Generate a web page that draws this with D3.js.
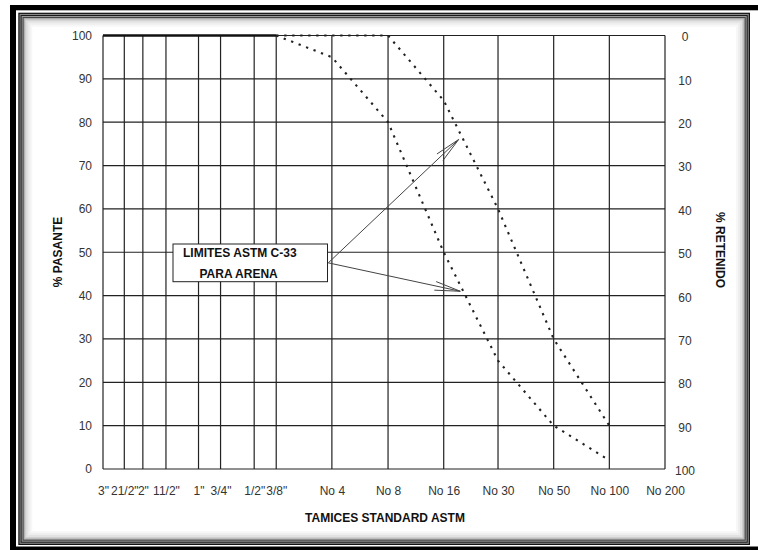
<!DOCTYPE html>
<html><head><meta charset="utf-8">
<script src="https://cdn.jsdelivr.net/npm/d3@7"></script>
<style>body{margin:0;background:#fff}svg{display:block;font-family:"Liberation Sans",Arial,sans-serif}</style>
</head><body><svg id="c" width="758" height="550"></svg>
<script>
// ---- data ----
const sieveLabels = ['3"','21/2"','2"','11/2"','1"','3/4"','1/2"','3/8"','No 4','No 8','No 16','No 30','No 50','No 100','No 200'];
const sieveMM     = [75, 63, 50, 37.5, 25, 19, 12.5, 9.5, 4.75, 2.36, 1.18, 0.6, 0.3, 0.15, 0.075];
const upperLimit  = [100,100,100,100,100,100,100,100,100,100,85,60,30,10,null];
const lowerLimit  = [100,100,100,100,100,100,100,100,95,80,50,25,10,2,null];
const pasanteTicks  = [0,10,20,30,40,50,60,70,80,90,100];
const retenidoTicks = [0,10,20,30,40,50,60,70,80,90,100];
const legendLines = ["LIMITES ASTM C-33", "PARA ARENA"];
const arrowTargets = [{mm:0.98, pct:76}, {mm:0.96, pct:41}];
const coarseEnd = 7; // index of 3/8"

const svg = d3.select("#c");

// ---- frame ----
const fr = svg.append("g");
fr.append("rect").attr("x",10).attr("y",5).attr("width",760).attr("height",560).attr("fill","#000");
fr.append("rect").attr("x",16).attr("y",10.3).attr("width",750).attr("height",536.2).attr("fill","#fff");
const layers = [["#111",0],["#8a8a8a",1.2],["#1a1a1a",2.3],["#9a9a9a",3.3],["#444",4.3],["#aaa",5.3],["#cfcfcf",6.5],["#e2e2e2",8],["#eeeeee",10],["#f7f7f7",12],["#fff",14]];
layers.forEach(([c,i])=>{
  fr.append("rect").attr("x",18.3+i).attr("y",12.7+i).attr("width",731.7-2*i).attr("height",532.3-2*i).attr("fill",c);
});

// ---- scales (log of sieve opening; first interval widened as in the original axis) ----
const x = d3.scaleLog().domain([sieveMM[0], sieveMM[1], sieveMM[sieveMM.length-1]]).range([103, 124.3, 665]);
const y = d3.scaleLinear().domain([0,100]).range([469,35.5]);
const yR = d3.scaleLinear().domain([100,0]).range([469,35.5]);
const x0 = x(sieveMM[0]), x1 = x(sieveMM[sieveMM.length-1]);

// ---- grid ----
const grid = svg.append("g").attr("stroke","#222").attr("stroke-width",1.2);
grid.selectAll("line.h").data(pasanteTicks).join("line")
  .attr("x1",x0).attr("x2",x1).attr("y1",d=>y(d)).attr("y2",d=>y(d));
grid.selectAll("line.v").data(sieveMM).join("line")
  .attr("x1",d=>x(d)).attr("x2",d=>x(d)).attr("y1",y(0)).attr("y2",y(100));

// ---- axes ----
const axL = svg.append("g").attr("transform",`translate(${x0},0)`)
  .call(d3.axisLeft(y).tickValues(pasanteTicks).tickSize(0).tickPadding(11));
const axR = svg.append("g").attr("transform",`translate(${x1},0)`)
  .call(d3.axisRight(yR).tickValues(retenidoTicks).tickSize(0).tickPadding(20));
axR.selectAll("text").attr("text-anchor","middle").attr("dy","0.45em");
const axB = svg.append("g").attr("transform",`translate(0,${y(0)})`)
  .call(d3.axisBottom(x).tickValues(sieveMM).tickFormat((d,i)=>sieveLabels[i]).tickSize(0).tickPadding(17));
[axL,axR,axB].forEach(a=>{
  a.select(".domain").remove();
  a.selectAll("text").attr("font-size",12).attr("fill","#333").attr("font-family",'"Liberation Sans",Arial,sans-serif');
});

// ---- curves ----
const rows = sieveMM.map((mm,i)=>({mm, up:upperLimit[i], lo:lowerLimit[i]}));
const lineUp = d3.line().defined(d=>d.up!=null).x(d=>x(d.mm)).y(d=>y(d.up));
const lineLo = d3.line().defined(d=>d.lo!=null).x(d=>x(d.mm)).y(d=>y(d.lo));
svg.append("path").attr("d",lineUp(rows.slice(0,coarseEnd+1)))
  .attr("fill","none").attr("stroke","#111").attr("stroke-width",2.6);
[lineUp,lineLo].forEach(fn=>{
  svg.append("path").attr("d",fn(rows.slice(coarseEnd)))
    .attr("fill","none").attr("stroke","#222").attr("stroke-width",2.1)
    .attr("stroke-dasharray","2.3,5.7");
});

// ---- legend box + arrows ----
const bx = 173, by = 244, bw = 154.5, bh = 37.7;
const start = [bx+bw+0.8, by+bh/2];
const ar = svg.append("g").attr("stroke","#444").attr("stroke-width",1).attr("fill","none");
arrowTargets.forEach(t=>{
  const tx = x(t.mm), ty = y(t.pct);
  ar.append("line").attr("x1",start[0]).attr("y1",start[1]).attr("x2",tx).attr("y2",ty);
  const ang = Math.atan2(start[1]-ty, start[0]-tx);
  [0.17,-0.17].forEach(da=>{
    ar.append("line").attr("x1",tx).attr("y1",ty)
      .attr("x2",tx+26*Math.cos(ang+da)).attr("y2",ty+26*Math.sin(ang+da));
  });
});
svg.append("rect").attr("x",bx).attr("y",by).attr("width",bw).attr("height",bh)
  .attr("fill","#fff").attr("stroke","#222").attr("stroke-width",1);
svg.append("text").attr("x",bx+10).attr("y",by+12.8).text(legendLines[0])
  .attr("font-size",12).attr("font-weight","bold").attr("fill","#111");
svg.append("text").attr("x",bx+26.5).attr("y",by+34.3).text(legendLines[1])
  .attr("font-size",12).attr("font-weight","bold").attr("fill","#111");

// ---- titles ----
svg.append("text").attr("x",385).attr("y",521.5).attr("text-anchor","middle")
  .attr("font-size",12).attr("font-weight","bold").attr("fill","#111").text("TAMICES STANDARD ASTM");
svg.append("text").attr("transform","translate(62,252) rotate(-90)").attr("text-anchor","middle")
  .attr("font-size",12).attr("font-weight","bold").attr("fill","#111").text("% PASANTE");
svg.append("text").attr("transform","translate(716,250) rotate(90)").attr("text-anchor","middle")
  .attr("font-size",12).attr("font-weight","bold").attr("fill","#111").text("% RETENIDO");
</script></body></html>
